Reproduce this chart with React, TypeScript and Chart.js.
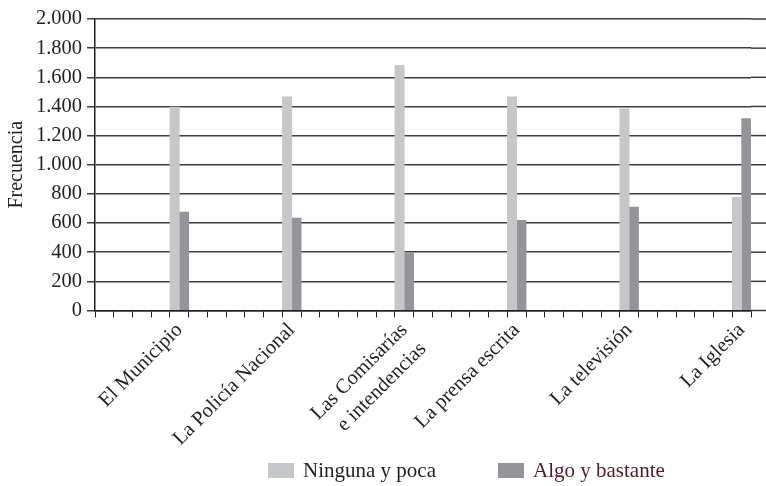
import React, { useEffect, useRef } from 'react';
import { Chart, registerables } from 'chart.js';

Chart.register(...registerables);

// Institutions shown on the category axis
const categories: (string | string[])[] = [
  'El Municipio',
  'La Policía Nacional',
  ['Las Comisarías', 'e intendencias'],
  'La prensa escrita',
  'La televisión',
  'La Iglesia',
];

// Frequencies per institution
const ningunaPoca = [1395, 1466, 1682, 1466, 1384, 777];
const algoBastante = [675, 634, 395, 618, 709, 1316];

const seriesNames = ['Ninguna y poca', 'Algo y bastante'];
const seriesColors = ['#c6c7c9', '#939598'];
const legendTextColors = ['#231f20', '#4f1b24'];

const yMin = 0;
const yMax = 2000;
const yStep = 200;

// The category axis has many empty slots; each institution sits on every sixth one.
const SLOT_COUNT = 35;
const FIRST_SLOT = 4;
const SLOT_STEP = 6;

const groupAt = (slot: number) => {
  const g = (slot - FIRST_SLOT) / SLOT_STEP;
  return Number.isInteger(g) && g >= 0 && g < categories.length ? g : -1;
};
const slotLabels = Array.from({ length: SLOT_COUNT }, (_, i) => {
  const g = groupAt(i);
  return g >= 0 ? categories[g] : '';
});
const toSlots = (vals: number[]) =>
  Array.from({ length: SLOT_COUNT }, (_, i) => {
    const g = groupAt(i);
    return g >= 0 ? vals[g] : null;
  });

const FONT = "'Liberation Serif', 'Times New Roman', serif";
const TEXT = '#231f20';
const GRID = '#3d3d3d';

const thousands = (v: number) => String(v).replace(/\B(?=(\d{3})+(?!\d))/g, '.');

// Carries the horizontal grid lines on past the plot to the canvas edge
const extendGrid = {
  id: 'extendGrid',
  beforeDatasetsDraw(chart: any) {
    const { ctx, chartArea, scales } = chart;
    const y = scales.y;
    ctx.save();
    ctx.strokeStyle = GRID;
    ctx.lineWidth = 1.5;
    y.ticks.forEach((t: any) => {
      const py = y.getPixelForValue(t.value);
      ctx.beginPath();
      ctx.moveTo(chartArea.right, py);
      ctx.lineTo(chart.width, py);
      ctx.stroke();
    });
    ctx.restore();
  },
};

export default function App() {
  const canvasRef = useRef<HTMLCanvasElement | null>(null);

  useEffect(() => {
    if (!canvasRef.current) return;
    const chart = new Chart(canvasRef.current, {
      type: 'bar',
      data: {
        labels: slotLabels as any,
        datasets: [
          {
            label: seriesNames[0],
            data: toSlots(ningunaPoca),
            backgroundColor: seriesColors[0],
            barPercentage: 1,
            categoryPercentage: 1,
          },
          {
            label: seriesNames[1],
            data: toSlots(algoBastante),
            backgroundColor: seriesColors[1],
            barPercentage: 1,
            categoryPercentage: 1,
          },
        ],
      },
      options: {
        responsive: false,
        animation: false,
        devicePixelRatio: 1,
        layout: { padding: { top: 19, right: 15, left: 0, bottom: 0 } },
        plugins: {
          legend: { display: false },
          tooltip: { enabled: false },
        },
        scales: {
          x: {
            offset: true,
            ticks: {
              autoSkip: false,
              maxRotation: 45,
              minRotation: 45,
              color: TEXT,
              padding: 0,
              font: { family: FONT, size: 20.5, lineHeight: 1.3 },
            },
            grid: {
              offset: true,
              drawOnChartArea: false,
              drawTicks: true,
              tickLength: 7,
              color: TEXT,
              lineWidth: 1,
            },
            border: { color: TEXT, width: 1.5 },
            afterFit: (s: any) => {
              s.height = 175.5;
            },
          },
          y: {
            min: yMin,
            max: yMax,
            ticks: {
              stepSize: yStep,
              color: TEXT,
              padding: 5,
              font: { family: FONT, size: 20.5 },
              callback: (v: any) => thousands(Number(v)),
            },
            grid: {
              color: GRID,
              lineWidth: 1.5,
              drawTicks: true,
              tickLength: 8,
            },
            border: { color: TEXT, width: 1.5 },
            title: {
              display: true,
              text: 'Frecuencia',
              color: TEXT,
              font: { family: FONT, size: 20 },
              padding: { top: 5, bottom: 0 },
            },
            afterFit: (s: any) => {
              s.width = 95;
            },
          },
        },
      },
      plugins: [extendGrid],
    });
    return () => chart.destroy();
  }, []);

  return (
    <div style={{ position: 'fixed', left: 0, top: 0, width: 766, height: 486, background: '#fff' }}>
      <canvas ref={canvasRef} width={766} height={486} style={{ display: 'block' }} />
      <div
        style={{
          position: 'absolute',
          left: 268,
          top: 460,
          display: 'flex',
          alignItems: 'center',
          fontFamily: FONT,
          fontSize: 21,
          lineHeight: '21px',
        }}
      >
        {seriesNames.map((name, i) => (
          <div key={name} style={{ display: 'flex', alignItems: 'center', width: i === 0 ? 230 : 'auto' }}>
            <span style={{ display: 'inline-block', width: 26, height: 15, background: seriesColors[i], marginRight: 9 }} />
            <span style={{ color: legendTextColors[i], whiteSpace: 'nowrap' }}>{name}</span>
          </div>
        ))}
      </div>
    </div>
  );
}
